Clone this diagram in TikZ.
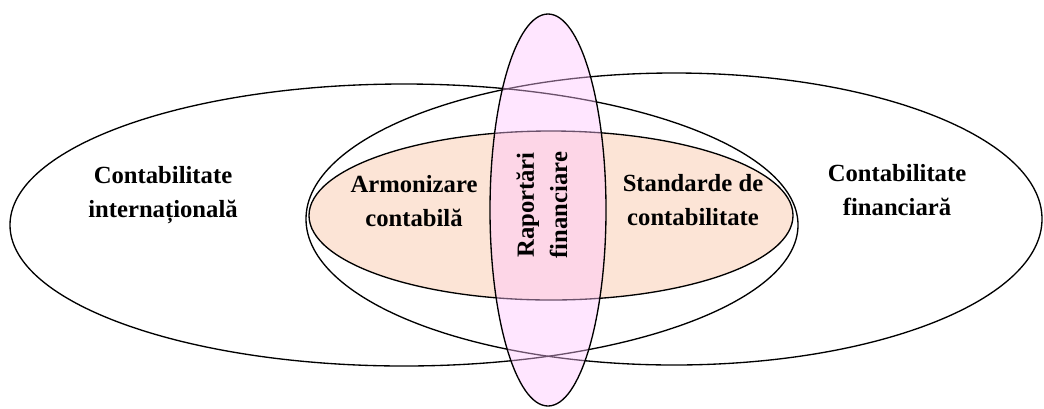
\documentclass[tikz,border=0pt]{standalone}
\usepackage{fontspec}
\setmainfont{Liberation Serif}
\usetikzlibrary{shapes.geometric}
\definecolor{peach}{RGB}{252,228,214}
\definecolor{lilac}{RGB}{255,195,255}
\begin{document}
\begin{tikzpicture}[%
    x=0.75pt, y=-0.75pt,        % work on the pixel grid of the figure
    line width=1pt,             % one width for all outlines
    ]
% -------------------------------------------------
% A few styles
\tikzset{
  oval/.style={draw, ellipse, inner sep=0pt},
  txt/.style={font=\bfseries\fontsize{18.5}{25}\selectfont, align=center},
}
\useasboundingbox (0,0) rectangle (1044,408);
% -------------------------------------------------
% The ellipses, back to front
\node [oval, minimum width=591pt, minimum height=211.5pt] (intl) at (404,225) {};
\node [oval, minimum width=552pt, minimum height=219pt] (fin) at (674,219) {};
\node [oval, fill=peach, minimum width=363pt, minimum height=126.75pt] (std) at (551,215.5) {};
\node [oval, fill=lilac, fill opacity=0.42, minimum width=87pt, minimum height=294pt] (rap) at (548,210) {};

% -------------------------------------------------
% Texts
\node [txt] (tintl) at (163,195) {Contabilitate\\internațională};
\node [txt] (tfin) at (897,190) {Contabilitate\\financiară};
\node [txt] (tarm) at (414,201) {Armonizare\\contabilă};
\node [txt] (tstd) at (693,200) {Standarde de\\contabilitate};
\node [txt, rotate=90] (trap) at (542,205) {Raportări\\financiare};
% -------------------------------------------------
\end{tikzpicture}
\end{document}
